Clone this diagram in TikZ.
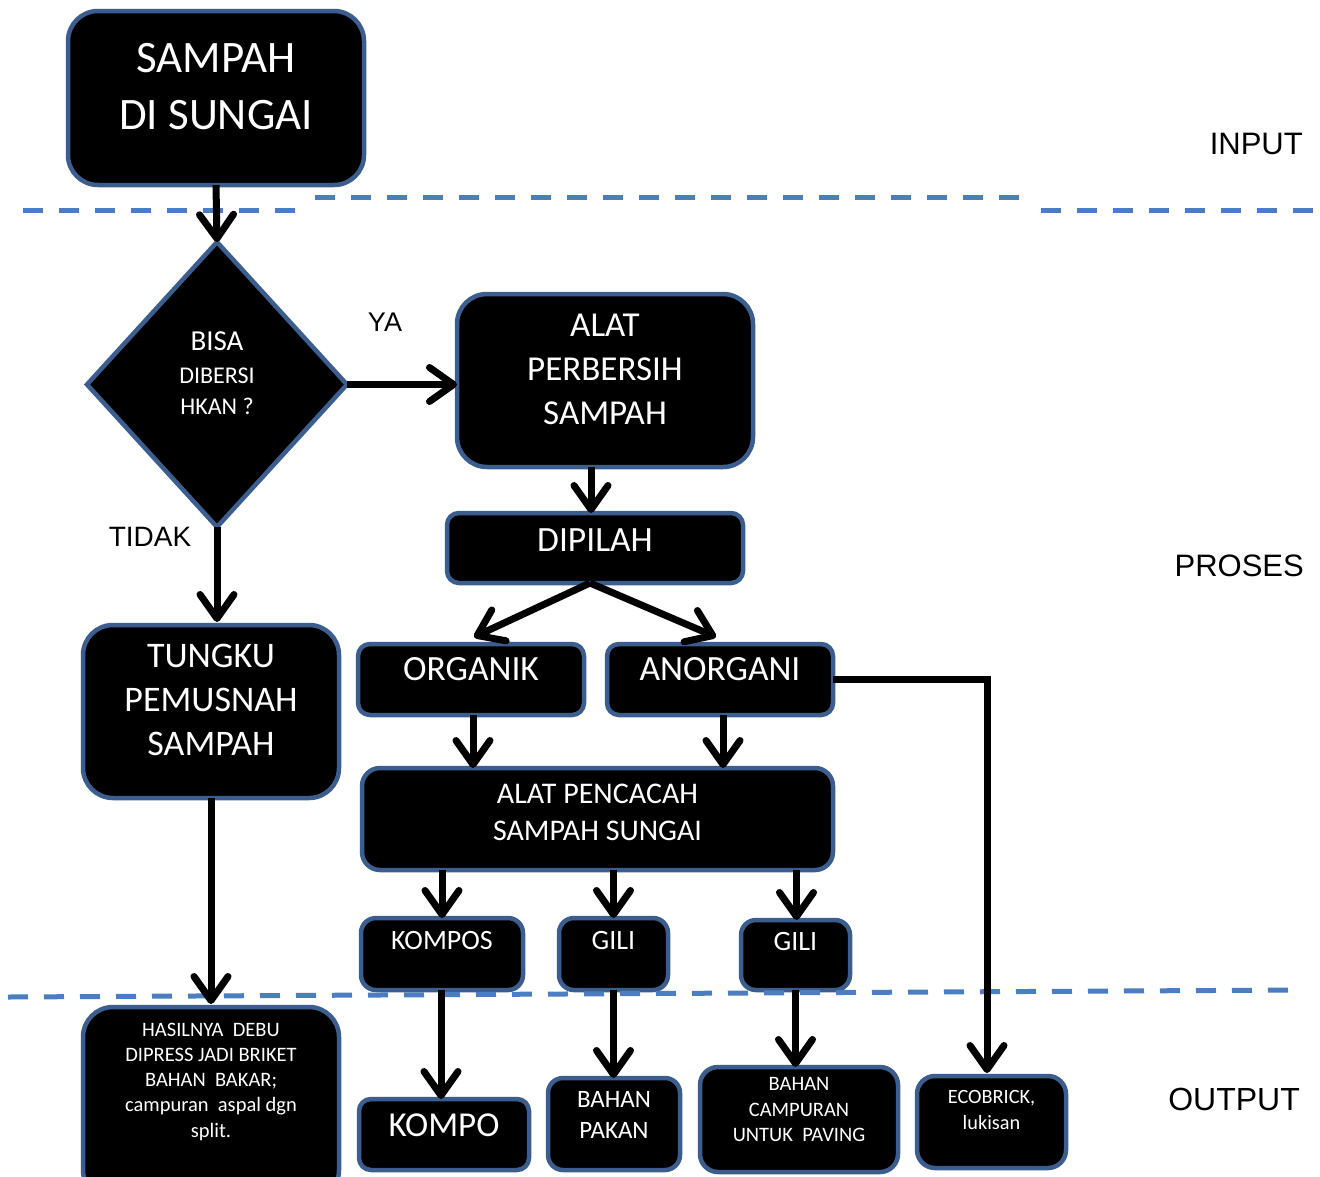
\documentclass[tikz,border=0pt]{standalone}
\usepackage{fontspec}
\setmainfont{Carlito}
\newfontfamily\labfont{Liberation Sans}
\usetikzlibrary{arrows.meta,shapes.geometric}
\definecolor{bord}{RGB}{60,94,142}
\definecolor{dashblue}{RGB}{74,126,193}
\begin{document}
\begin{tikzpicture}[x=1pt,y=-1pt,
  box/.style={draw=bord, fill=black, line width=4.5pt, inner sep=0pt, outer sep=0pt},
  txt/.style={text=white, align=center, inner sep=0pt, anchor=base},
  lab/.style={text=black, inner sep=0pt, font=\labfont\fontsize{31}{36}\selectfont},
  arr/.style={line width=7pt, -{Straight Barb[length=24pt,width=34pt,round]}},
  sep/.style={draw=dashblue, line width=5pt, dash pattern=on 20pt off 16pt}]

\clip (0,0) rectangle (1320,1176);
\fill[white] (0,0) rectangle (1320,1176);

% ---------- boxes ----------
\node[box, rounded corners=30pt, minimum width=296pt, minimum height=174pt] (sampah) at (216,98) {};
\node[box, diamond, minimum width=260pt, minimum height=285pt] (dia) at (217,384.5) {};
\node[box, rounded corners=30pt, minimum width=296pt, minimum height=173pt] (alat) at (605,380.5) {};
\node[box, rounded corners=12pt, minimum width=296pt, minimum height=70pt] (dipilah) at (595,548) {};
\node[box, rounded corners=12pt, minimum width=226pt, minimum height=71pt] (organik) at (471,679.5) {};
\node[box, rounded corners=12pt, minimum width=226pt, minimum height=71pt] (anorgani) at (720,679.5) {};
\node[box, rounded corners=30pt, minimum width=256pt, minimum height=173pt] (tungku) at (211,711.5) {};
\node[box, rounded corners=18pt, minimum width=471pt, minimum height=102pt] (pencacah) at (597.5,819) {};
\node[box, rounded corners=15pt, minimum width=162pt, minimum height=72pt] (kompos) at (442,954) {};
\node[box, rounded corners=15pt, minimum width=109pt, minimum height=72pt] (gilia) at (613.5,954) {};
\node[box, rounded corners=15pt, minimum width=109pt, minimum height=70pt] (gilib) at (795.5,955) {};
\node[box, rounded corners=30pt, minimum width=256pt, minimum height=193pt] (hasil) at (211,1103.5) {};
\node[box, rounded corners=12pt, minimum width=170pt, minimum height=71pt] (kompo) at (444,1134.5) {};
\node[box, rounded corners=15pt, minimum width=132pt, minimum height=92pt] (pakan) at (614,1124) {};
\node[box, rounded corners=18pt, minimum width=198pt, minimum height=105pt] (paving) at (799,1119.5) {};
\node[box, rounded corners=18pt, minimum width=149pt, minimum height=92pt] (ecobrick) at (991.5,1122) {};

% ---------- texts (anchor = baseline of last line) ----------
\node[txt, font=\fontsize{45}{57}\selectfont] (sampaht) at (216,129.5) {SAMPAH\\DI SUNGAI};
\node[txt, font=\fontsize{24}{31}\selectfont] (diat) at (217,414) {{\fontsize{29}{31}\selectfont BISA}\\[2pt]DIBERSI\\HKAN ?};
\node[txt, font=\fontsize{35}{44}\selectfont] (alatt) at (605,424) {ALAT\\PERBERSIH\\SAMPAH};
\node[txt, font=\fontsize{35.5}{44}\selectfont] (dipilaht) at (595,551) {DIPILAH};
\node[txt, font=\fontsize{35.5}{44}\selectfont] (organikt) at (471,680) {ORGANIK};
\node[txt, font=\fontsize{35.5}{44}\selectfont] (anorganit) at (720,680) {ANORGANI};
\node[txt, font=\fontsize{36}{44}\selectfont] (tungkut) at (211,755.5) {TUNGKU\\PEMUSNAH\\SAMPAH};
\node[txt, font=\fontsize{30}{37}\selectfont] (pencacaht) at (597.5,840.5) {ALAT PENCACAH\\SAMPAH SUNGAI};
\node[txt, font=\fontsize{28}{34}\selectfont] (kompost) at (442,949) {KOMPOS};
\node[txt, font=\fontsize{28}{34}\selectfont] (giliat) at (613.5,949) {GILI};
\node[txt, font=\fontsize{28}{34}\selectfont] (gilibt) at (795.5,950) {GILI};
\node[txt, font=\fontsize{20.5}{25.2}\selectfont] (hasilt) at (211,1137) {HASILNYA~ DEBU\\DIPRESS JADI BRIKET\\BAHAN~ BAKAR;\\campuran~ aspal dgn\\split.};
\node[txt, font=\fontsize{35}{44}\selectfont] (kompot) at (444,1136) {KOMPO};
\node[txt, font=\fontsize{25}{31}\selectfont] (pakant) at (614,1138) {BAHAN\\PAKAN};
\node[txt, font=\fontsize{20.5}{25.5}\selectfont] (pavingt) at (799,1141.6) {BAHAN\\CAMPURAN\\UNTUK~ PAVING};
\node[txt, font=\fontsize{20.3}{26}\selectfont] (ecobrickt) at (991.5,1129.5) {ECOBRICK,\\lukisan};

% ---------- side labels ----------
\node[lab, anchor=base east] (inp) at (1303,154) {INPUT};
\node[lab, anchor=base east] (pros) at (1304,576) {PROSES};
\node[lab, anchor=base east, font=\labfont\fontsize{32}{36}\selectfont] (outp) at (1300,1110.5) {OUTPUT};
\node[lab, anchor=base, font=\labfont\fontsize{27}{30}\selectfont] (ya) at (385,331) {YA};
\node[lab, anchor=base, font=\labfont\fontsize{28}{30}\selectfont] (tidak) at (150,546) {TIDAK};

% ---------- separators ----------
\draw[sep] (23,210) -- (300,210);
\draw[sep] (315,197) -- (1026,197);
\draw[sep] (1041,210) -- (1318,210);
\draw[sep] (8,997) -- (1303,990);

% ---------- connectors ----------
\draw[arr] (sampah.south) -- (dia.north);
\draw[arr] (dia.east) -- (dia.east -| alat.west);
\draw[arr] (dia.south) -- ([yshift=3pt]dia.south |- tungku.north);
\draw[arr] ([xshift=-14pt]alat.south) -- ([xshift=-4pt]dipilah.north);
\draw[arr] ([xshift=-5pt]dipilah.south) -- ([xshift=3pt,yshift=7pt]organik.north);
\draw[arr] ([xshift=-5pt]dipilah.south) -- ([xshift=-4pt,yshift=7pt]anorgani.north);
\draw[arr] ([xshift=2pt]organik.south) -- ([xshift=2pt]organik.south |- pencacah.north);
\draw[arr] ([xshift=3pt]anorgani.south) -- ([xshift=3pt]anorgani.south |- pencacah.north);
\draw[arr] (kompos.north |- pencacah.south) -- (kompos.north);
\draw[arr] (gilia.north |- pencacah.south) -- (gilia.north);
\draw[arr] ([xshift=1pt]gilib.north |- pencacah.south) -- ([xshift=1pt]gilib.north);
\draw[arr] (anorgani.east) -| ([xshift=-4.5pt,yshift=3pt]ecobrick.north);
\draw[arr] (tungku.south) -- ([yshift=3pt]hasil.north);
\draw[arr] ([xshift=-1pt]kompos.south) -- ([xshift=-1pt]kompos.south |- kompo.north);
\draw[arr] (gilia.south) -- (gilia.south |- pakan.north);
\draw[arr] (gilib.south) -- (gilib.south |- paving.north);
\end{tikzpicture}
\end{document}
